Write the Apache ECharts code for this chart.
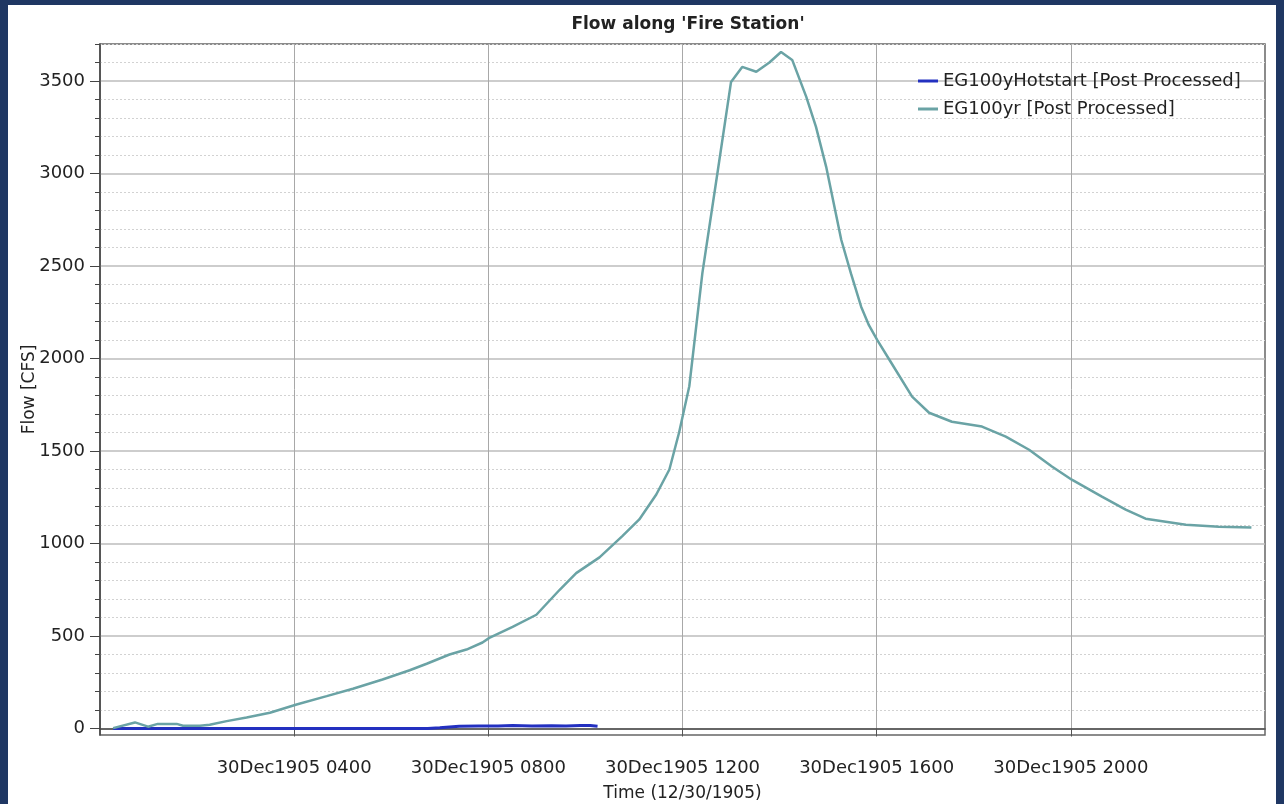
<!DOCTYPE html>
<html>
<head>
<meta charset="utf-8">
<script src="https://cdn.jsdelivr.net/npm/echarts@6/dist/echarts.min.js"></script>
<style>
  html, body { margin: 0; padding: 0; width: 1284px; height: 804px; background: #1f3763; overflow: hidden; }
  #chart { position: absolute; left: 8px; top: 5px; width: 1268px; height: 799px; background: #ffffff; }
</style>
</head>
<body>
<div id="chart"></div>
<script>
// ---- data (hours after 00:00 on 30 Dec 1905, flow in CFS) ----
const hotstartHours = [0.27, 1.0, 3.0, 5.0, 6.75, 7.0, 7.4, 7.8, 8.2, 8.5, 8.9, 9.3, 9.6, 9.9, 10.1, 10.25];
const hotstartFlow  = [0,    0,   0,   0,   0,    4,   12,  14,  13,  16,  13,  15,  14,  17,  16,   12];

const yrHours = [0.27, 0.72, 0.99, 1.19, 1.58, 1.71, 2.06, 2.26, 2.61, 3.02, 3.50, 4.05, 4.67, 5.21, 5.82,
                 6.38, 6.73, 7.20, 7.55, 7.88, 8.02, 8.50, 8.99, 9.47, 9.81, 10.29, 10.76, 11.11, 11.46, 11.73,
                 11.93, 12.14, 12.41, 12.72, 13.00, 13.23, 13.52, 13.79, 14.03, 14.26, 14.55, 14.75, 14.96, 15.27,
                 15.47, 15.68, 15.84, 16.01, 16.30, 16.73, 17.08, 17.55, 18.17, 18.66, 19.14, 19.61, 20.02, 20.64,
                 21.13, 21.54, 22.37, 23.05, 23.72];
const yrFlow  = [2, 33, 10, 25, 25, 15, 15, 20, 40, 60, 85, 130, 175, 215, 265,
                 315, 350, 400, 427, 465, 490, 550, 615, 750, 840, 925, 1040, 1130, 1265, 1400,
                 1600, 1850, 2463, 3003, 3495, 3576, 3550, 3600, 3657, 3614, 3414, 3252, 3036, 2642,
                 2460, 2280, 2180, 2101, 1977, 1794, 1707, 1658, 1632, 1578, 1507, 1416, 1345, 1253,
                 1183, 1134, 1102, 1091, 1086];

const xTickHours   = [4, 8, 12, 16, 20];
const yMajorTicks  = [0, 500, 1000, 1500, 2000, 2500, 3000, 3500];
const yMinorTicks  = [100, 200, 300, 400, 600, 700, 800, 900, 1100, 1200, 1300, 1400, 1600, 1700, 1800, 1900,
                      2100, 2200, 2300, 2400, 2600, 2700, 2800, 2900, 3100, 3200, 3300, 3400, 3600, 3700];
const seriesNames  = ['EG100yHotstart [Post Processed]', 'EG100yr [Post Processed]'];
const datePrefix   = '30Dec1905 ';

const FONT = 'DejaVu Sans';
const pad2 = n => (n < 10 ? '0' : '') + n;

const chart = echarts.init(document.getElementById('chart'), null, { renderer: 'canvas' });
chart.setOption({
  animation: false,
  backgroundColor: '#ffffff',
  textStyle: { fontFamily: FONT },
  title: {
    text: "Flow along 'Fire Station'",
    left: 675,
    textAlign: 'center',
    top: 6,
    textStyle: { fontFamily: FONT, fontSize: 17, fontWeight: 'bold', color: '#222' }
  },
  legend: {
    orient: 'vertical',
    left: 905,
    top: 62,
    itemGap: 10,
    itemWidth: 20,
    itemHeight: 3,
    icon: 'rect',
    textStyle: { fontFamily: FONT, fontSize: 18, color: '#222' },
    data: seriesNames
  },
  grid: {
    left: 92, right: 11, top: 39, bottom: 69,
    show: true, borderColor: '#666', borderWidth: 1.5,
    containLabel: false, outerBoundsMode: 'none'
  },
  xAxis: {
    type: 'value',
    min: 0, max: 24,
    name: 'Time (12/30/1905)',
    nameLocation: 'middle',
    nameGap: 50,
    nameMoveOverlap: false,
    nameTextStyle: { fontFamily: FONT, fontSize: 17, color: '#222' },
    axisLine: { show: true, lineStyle: { color: '#444', width: 1.5 } },
    axisTick: { show: true, customValues: xTickHours, length: 8, lineStyle: { color: '#555' } },
    axisLabel: {
      customValues: xTickHours,
      margin: 24,
      fontFamily: FONT, fontSize: 18, color: '#222',
      formatter: v => datePrefix + pad2(v) + '00'
    },
    splitLine: { show: true, lineStyle: { color: '#a8a8a8', width: 1 } }
  },
  yAxis: [
    {
      type: 'value',
      min: -35, max: 3700,
      name: 'Flow [CFS]',
      nameLocation: 'middle',
      nameGap: 62,
      nameMoveOverlap: false,
      nameTextStyle: { fontFamily: FONT, fontSize: 17, color: '#222' },
      axisLine: { show: true, lineStyle: { color: '#444', width: 1.5 } },
      axisTick: { show: true, customValues: yMajorTicks, length: 10, lineStyle: { color: '#444' } },
      axisLabel: {
        customValues: yMajorTicks, margin: 15, fontFamily: FONT, fontSize: 18, color: '#222',
        formatter: v => String(v)
      },
      splitLine: { show: true, lineStyle: { color: '#bdbdbd', width: 1.5 } }
    },
    {
      type: 'value',
      min: -35, max: 3700,
      position: 'left',
      axisLine: { show: false },
      axisTick: { show: true, customValues: yMinorTicks, length: 5, lineStyle: { color: '#444' } },
      axisLabel: { show: false, customValues: yMinorTicks },
      splitLine: { show: true, lineStyle: { color: '#d2d2d2', width: 1, type: [2, 2] } }
    }
  ],
  series: [
    {
      name: seriesNames[0],
      type: 'line',
      yAxisIndex: 0,
      showSymbol: false,
      smooth: false,
      lineStyle: { color: '#2330c0', width: 3 },
      itemStyle: { color: '#2330c0' },
      data: hotstartHours.map((h, i) => [h, hotstartFlow[i]])
    },
    {
      name: seriesNames[1],
      type: 'line',
      yAxisIndex: 0,
      showSymbol: false,
      smooth: false,
      lineStyle: { color: '#6aa3a5', width: 2.5 },
      itemStyle: { color: '#6aa3a5' },
      data: yrHours.map((h, i) => [h, yrFlow[i]])
    }
  ]
});
</script>
</body>
</html>
